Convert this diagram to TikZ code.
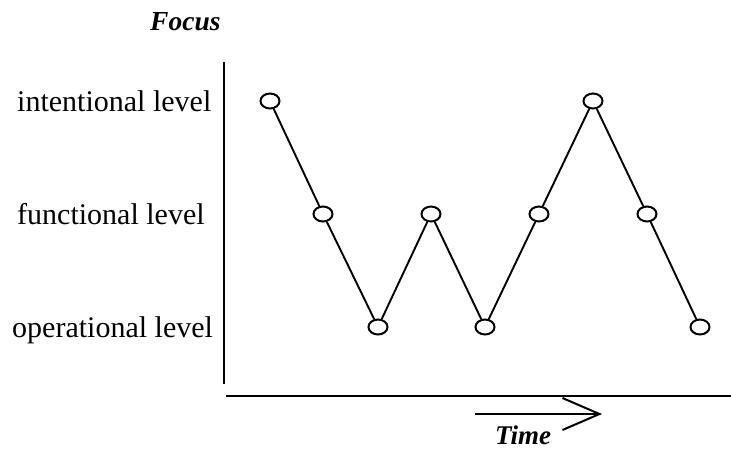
\documentclass[tikz,border=0pt]{standalone}
\usepackage{fontspec}
\setmainfont{Liberation Serif}
\usetikzlibrary{shapes.geometric,arrows.meta}
\begin{document}
\begin{tikzpicture}[x=1pt,y=-1pt,
  pt/.style={ellipse,draw,line width=2pt,minimum width=19pt,minimum height=15pt,inner sep=0pt},
  conn/.style={line width=1.9pt},
  axis/.style={line width=2.2pt},
  lvl/.style={anchor=base west,inner sep=0pt,font=\fontsize{30}{30}\selectfont},
  ttl/.style={anchor=base west,inner sep=0pt,font=\fontsize{27.5}{28}\selectfont\bfseries\itshape}]
\useasboundingbox (0,0) rectangle (731,450);
\node[ttl] (focus) at (150,30) {Focus};
\node[lvl] (int) at (17,111) {intentional level};
\node[lvl] (fun) at (17,224) {functional level};
\node[lvl] (ope) at (12,337) {operational level};
\coordinate (vt) at (224,62);
\coordinate (vb) at (224,384);
\coordinate (hl) at (226,396);
\coordinate (hr) at (731,396);
\draw[axis] (vt) -- (vb);
\draw[axis] (hl) -- (hr);
\node[pt] (p1) at (270,101) {};
\node[pt] (p2) at (323,214) {};
\node[pt] (p3) at (378,327) {};
\node[pt] (p4) at (431,214) {};
\node[pt] (p5) at (485,327) {};
\node[pt] (p6) at (539,214) {};
\node[pt] (p7) at (593,101) {};
\node[pt] (p8) at (647,214) {};
\node[pt] (p9) at (700,327) {};
\draw[conn] (p1) -- (p2) -- (p3) -- (p4) -- (p5) -- (p6) -- (p7) -- (p8) -- (p9);
\coordinate (as) at (475,414);
\coordinate (ae) at (602,414);
\draw[line width=2pt,-{Straight Barb[length=37pt,width=32pt,line width=2pt]}] (as) -- (ae);
\node[ttl,font=\fontsize{27}{28}\selectfont\bfseries\itshape] (time) at (495,444) {Time};
\end{tikzpicture}
\end{document}
